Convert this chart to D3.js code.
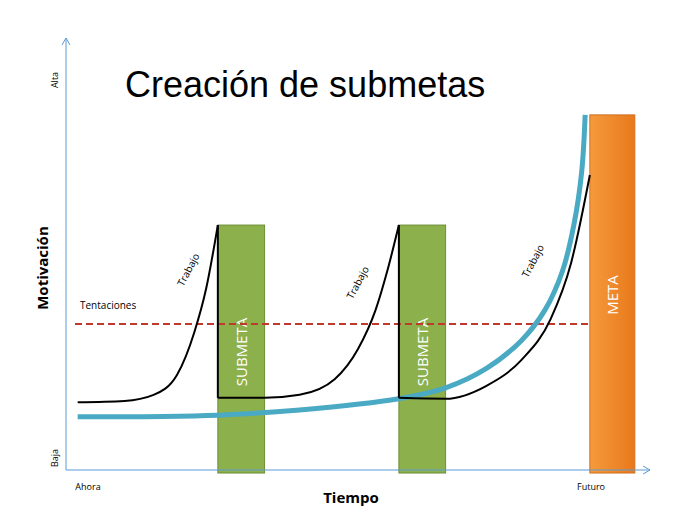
<!DOCTYPE html>
<html><head><meta charset="utf-8">
<script src="https://cdn.jsdelivr.net/npm/d3@7"></script>
<style>body{margin:0;background:#fff}</style>
</head><body>
<svg id="c" width="695" height="529"></svg>
<script>
"use strict";
/* time 0..100 (Ahora..), motivation 0..100 (Baja..Alta) */
const subgoals = [{x0: 26, x1: 34, top: 56.7, label: "SUBMETA"}, {x0: 57, x1: 65, top: 56.7, label: "SUBMETA"}];
const goal = {x0: 89.7, x1: 97.4, top: 82.2, label: "META"};
const temptation = 33.8;
const blueT = [2, 26, 40, 57, 65, 72, 78, 82, 85, 87, 88.3, 88.9];
const blueM = [12.3, 12.7, 13.9, 16.5, 19, 23.5, 30, 37, 46, 57, 69, 82.2];
const workT = [2, 10, 15, 19, 22, 24, 26, 26, 34, 40, 46, 50, 53, 55, 57, 57, 65, 72, 78, 83, 86.5, 89.7];
const workM = [15.7, 16.0, 17.4, 22, 32, 42, 56.7, 16.7, 16.7, 17.4, 21, 28, 37, 46, 56.7, 16.7, 16.5, 19.5, 25.5, 35, 48, 68.3];
const workLabels = [{t: 21.5, m: 46}, {t: 50.5, m: 43}, {t: 80.5, m: 48}];

const svg = d3.select("#c");
const x = d3.scaleLinear().domain([0, 100]).range([66, 650]);
const y = d3.scaleLinear().domain([0, 100]).range([470, 38]);

/* ── Title ── */
svg.append("text").attr("x", 125).attr("y", 97).attr("font-family", "Arial, Liberation Sans")
  .attr("font-size", 36).attr("fill", "#000").text("Creación de submetas");

/* ── Bars ── */
svg.selectAll(".sub").data(subgoals).join("rect")
  .attr("x", d => x(d.x0)).attr("width", d => x(d.x1) - x(d.x0))
  .attr("y", d => y(d.top)).attr("height", d => y(-0.7) - y(d.top))
  .attr("fill", "#8cb04c").attr("stroke", "#6e8f36").attr("stroke-width", 1);
const og = svg.append("defs").append("linearGradient").attr("id", "og");
og.append("stop").attr("offset", "0").attr("stop-color", "#f59a3c");
og.append("stop").attr("offset", "1").attr("stop-color", "#e8791c");
svg.append("rect").attr("x", x(goal.x0)).attr("width", x(goal.x1) - x(goal.x0))
  .attr("y", y(goal.top)).attr("height", y(-0.7) - y(goal.top))
  .attr("fill", "url(#og)").attr("stroke", "#d0701e");

svg.selectAll(".sublab").data(subgoals.concat([goal])).join("text")
  .attr("transform", d => `translate(${(x(d.x0) + x(d.x1)) / 2 + 6},${d === goal ? 295 : 352}) rotate(-90)`)
  .attr("text-anchor", "middle").attr("font-family", "Open Sans, Liberation Sans")
  .attr("font-size", 15).attr("fill", "#fff").text(d => d.label);

/* ── Temptation line ── */
svg.append("line").attr("x1", 75).attr("x2", x(goal.x0)).attr("y1", y(temptation)).attr("y2", y(temptation))
  .attr("stroke", "#c0392b").attr("stroke-width", 2.2).attr("stroke-dasharray", "7,4");
svg.append("text").attr("x", 80).attr("y", y(temptation) - 15).attr("font-family", "Open Sans, Liberation Sans")
  .attr("font-size", 10).text("Tentaciones");

/* ── Curves ── */
const line = d3.line().x(d => x(d[0])).y(d => y(d[1])).curve(d3.curveCatmullRom.alpha(0.5));
svg.append("path").datum(blueT.map((t, i) => [t, blueM[i]])).attr("d", line)
  .attr("fill", "none").attr("stroke", "#4aaac4").attr("stroke-width", 5);
const segs = [[0, 7], [7, 15], [15, 22]];
segs.forEach(([a, b]) => {
  const pts = workT.slice(a, b).map((t, i) => [t, workM[a + i]]);
  svg.append("path").datum(pts).attr("d", d3.line().x(d => x(d[0])).y(d => y(d[1])).curve(d3.curveMonotoneX))
    .attr("fill", "none").attr("stroke", "#000").attr("stroke-width", 2);
});
// vertical drops
[[26, 56.7, 16.7], [57, 56.7, 16.7]].forEach(([t, a, b]) =>
  svg.append("line").attr("x1", x(t)).attr("x2", x(t)).attr("y1", y(a)).attr("y2", y(b))
    .attr("stroke", "#000").attr("stroke-width", 2));
svg.selectAll(".wl").data(workLabels).join("text")
  .attr("transform", d => `translate(${x(d.t)},${y(d.m)}) rotate(-62)`)
  .attr("text-anchor", "middle").attr("font-family", "Open Sans, Liberation Sans")
  .attr("font-size", 10).text("Trabajo");

/* ── Axes ── */
const ax = svg.append("g").attr("stroke", "#5b9bd5").attr("stroke-width", 1).attr("fill", "none");
ax.append("line").attr("x1", x(0)).attr("x2", x(0)).attr("y1", y(0)).attr("y2", y(100));
ax.append("line").attr("x1", x(0)).attr("x2", x(100)).attr("y1", y(0)).attr("y2", y(0));
ax.append("path").attr("d", `M${x(0) - 4},${y(100) + 7}L${x(0)},${y(100)}L${x(0) + 4},${y(100) + 7}`);
ax.append("path").attr("d", `M${x(100) - 7},${y(0) - 4}L${x(100)},${y(0)}L${x(100) - 7},${y(0) + 4}`);

const small = (t, xx, yy, rot) => svg.append("text")
  .attr("transform", `translate(${xx},${yy})${rot ? " rotate(-90)" : ""}`)
  .attr("text-anchor", "middle").attr("font-family", "Open Sans, Liberation Sans").attr("font-size", 9).text(t);
small("Alta", 58, 80, true);
small("Baja", 58, 458, true);
small("Ahora", 88, 490);
small("Futuro", 591, 490);
svg.append("text").attr("x", 351).attr("y", 503).attr("text-anchor", "middle")
  .attr("font-family", "Open Sans, Liberation Sans").attr("font-weight", "bold").attr("font-size", 15).text("Tiempo");
svg.append("text").attr("transform", "translate(48,268) rotate(-90)").attr("text-anchor", "middle")
  .attr("font-family", "Open Sans, Liberation Sans").attr("font-weight", "bold").attr("font-size", 15).text("Motivación");
</script>
</body></html>
